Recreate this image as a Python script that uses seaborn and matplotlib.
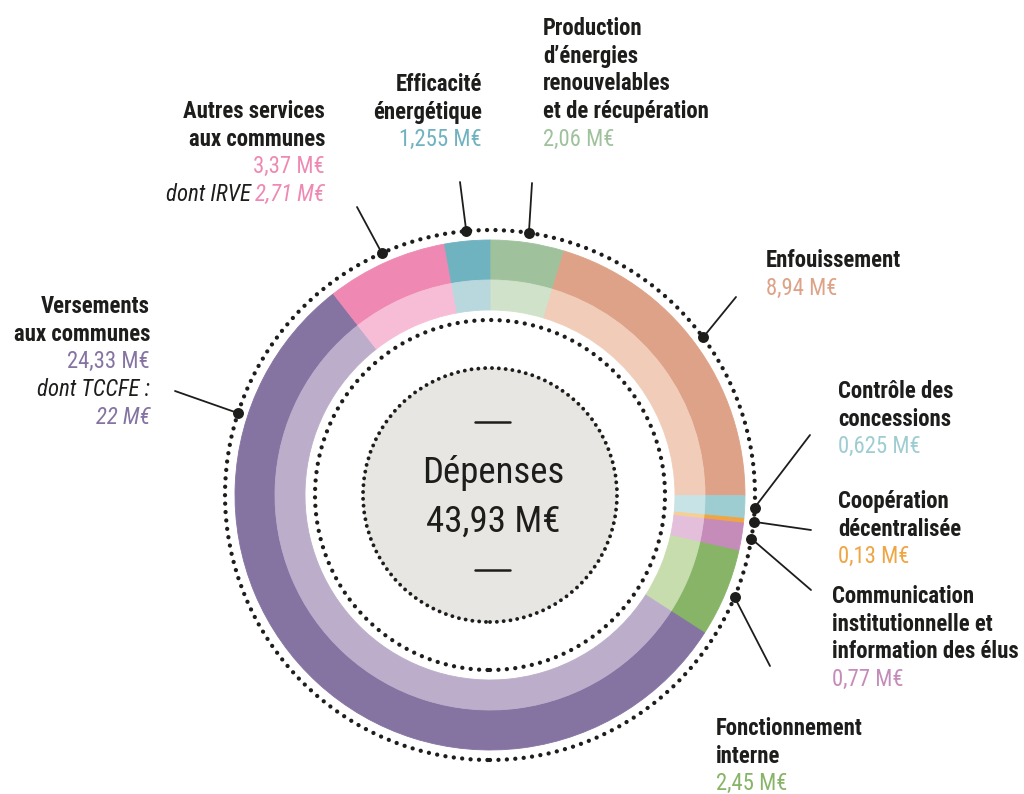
#!/usr/bin/env python3
import numpy as np
import matplotlib
matplotlib.use("Agg")
import matplotlib.pyplot as plt
from matplotlib import font_manager
from matplotlib.patches import Circle
import seaborn as sns


# -------------------------------------------------
# Data (clockwise from 12 o'clock)
# -------------------------------------------------
total_label = "43,93 M€"
categories = [
    "Production d'énergies renouvelables et de récupération",
    "Enfouissement",
    "Contrôle des concessions",
    "Coopération décentralisée",
    "Communication institutionnelle et information des élus",
    "Fonctionnement interne",
    "Versements aux communes",
    "Autres services aux communes",
    "Efficacité énergétique",
]
values = [2.06, 8.94, 0.625, 0.13, 0.77, 2.45, 24.33, 3.37, 1.255]
title_lines = [
    ["Production", "d’énergies", "renouvelables", "et de récupération"],
    ["Enfouissement"],
    ["Contrôle des", "concessions"],
    ["Coopération", "décentralisée"],
    ["Communication", "institutionnelle et", "information des élus"],
    ["Fonctionnement", "interne"],
    ["Versements", "aux communes"],
    ["Autres services", "aux communes"],
    ["Efficacité", "énergétique"],
]
detail_names = [None, None, None, None, None, None, "dont TCCFE :", "dont IRVE", None]
detail_values = [None, None, None, None, None, None, 22, 2.71, None]

outer_colors = ["#9fc29d", "#dda287", "#9ecdd1", "#efa544", "#c58bb9",
                "#87b467", "#8573a2", "#ef89b3", "#6fb2c0"]
inner_colors = ["#d0e2c9", "#f1cdb9", "#c7e3e5", "#f6cf96", "#e4bfdb",
                "#c8ddae", "#bcaecb", "#f8bdd6", "#b8d8de"]

# -------------------------------------------------
# Layout (pixels, y measured from the top)
# -------------------------------------------------
W, H = 1024, 794
CX, CY = 490, 495
R_OUT, R_MID, R_IN = 255, 215, 185
R_DOTS, R_INNER_DOTS, R_CENTER = 265, 175, 127

# x, first baseline, alignment
label_pos = [
    (543, 35, "left"),
    (766, 267, "left"),
    (838, 398, "left"),
    (838, 508, "left"),
    (832, 603, "left"),
    (716, 735, "left"),
    (150, 313, "right"),
    (325, 118, "right"),
    (482, 91, "right"),
]
leader_end = [(532, 183), (736, 297), (810, 435), (811, 530), (811, 590),
              (770, 666), (175, 391), (357, 207), (460, 182)]
dot_angle_override = {6: 162.0}
LINE_STEP = 27.7

TEXT_DARK = "#1d1d1b"


def pick_condensed():
    ttf = font_manager.fontManager.ttflist
    names = {f.name for f in ttf}
    for p in ["Roboto Condensed", "Liberation Sans Narrow", "Noto Sans Condensed",
              "Open Sans Condensed", "DejaVu Sans Condensed", "Noto Sans Display Condensed"]:
        if p in names:
            return p, "normal"
    cond = {f.name for f in ttf if f.stretch in ("condensed", "semi-condensed",
                                                  "extra-condensed", "ultra-condensed")}
    for fam in ["Noto Sans", "Open Sans", "DejaVu Sans", "Roboto", "Liberation Sans", "Inter"]:
        if fam in cond:
            return fam, "condensed"
    for n in sorted(names):
        if "Condensed" in n or "Narrow" in n:
            return n, "normal"
    return "Roboto", "normal"


def py(y):
    # pixel row -> data y
    return H - y


def fmt(v):
    return str(v).replace(".", ",") + " M€"


sns.set_theme(style="white")
FONT, STRETCH = pick_condensed()
plt.rcParams["font.family"] = [FONT, "DejaVu Sans"]

fig = plt.figure(figsize=(W / 100, H / 100), dpi=100)
ax = fig.add_axes([0, 0, 1, 1])

# --- two rings ---
for radius, width, cols in [(R_OUT, R_OUT - R_MID, outer_colors),
                            (R_MID, R_MID - R_IN, inner_colors)]:
    wedges, _ = ax.pie(values, radius=radius, center=(CX, py(CY)), startangle=90,
                       counterclock=False, colors=cols,
                       wedgeprops=dict(width=width, linewidth=0.6))
    for w in wedges:
        w.set_edgecolor(w.get_facecolor())

ax.set_xlim(0, W)
ax.set_ylim(0, H)
ax.set_aspect("equal")
ax.axis("off")
renderer = fig.canvas.get_renderer()


def text_width(s, size, **kw):
    t = ax.text(0, 0, s, fontsize=size, fontstretch=STRETCH, **kw)
    w = t.get_window_extent(renderer).width
    t.remove()
    return w


# scale sizes so line widths match the reference
LBL = min(19.5, 19.5 * 188 / text_width("information des élus", 19.5, fontweight="bold"))
BIG = min(34.0, 34.0 * 143 / text_width("Dépenses", 34))
kw_txt = dict(va="baseline", fontstretch=STRETCH)

# --- dotted circles & centre disc ---
ax.add_patch(Circle((CX, py(CY)), R_CENTER, facecolor="#e8e6e3", edgecolor="none", zorder=1))
for r, lw, gap in [(R_DOTS, 3.1, 1.95), (R_INNER_DOTS, 3.1, 1.95), (R_CENTER, 2.8, 1.75)]:
    ax.add_patch(Circle((CX, py(CY)), r, fill=False, edgecolor=TEXT_DARK, lw=lw,
                        linestyle=(0, (0.01, gap)), capstyle="round", zorder=3))

# --- centre text ---
ax.text(CX + 3, py(483), "Dépenses", ha="center", fontsize=BIG, color=TEXT_DARK, **kw_txt)
ax.text(CX + 3, py(532), total_label, ha="center", fontsize=BIG, color=TEXT_DARK, **kw_txt)
for yy in (422, 570):
    ax.plot([CX - 15, CX + 20], [py(yy), py(yy)], color=TEXT_DARK, lw=1.8, zorder=4)

# --- leaders ---
angles = []
start = 90.0
for v in values:
    span = v / sum(values) * 360
    angles.append(start - span / 2)
    start -= span

for i in range(len(values)):
    a = np.deg2rad(dot_angle_override.get(i, angles[i]))
    dx, dy = CX + R_DOTS * np.cos(a), py(CY) + R_DOTS * np.sin(a)
    ex, ey = leader_end[i]
    ax.plot([dx, ex], [dy, py(ey)], color=TEXT_DARK, lw=1.3, zorder=4)
    ax.scatter([dx], [dy], s=62, color=TEXT_DARK, zorder=5, linewidths=0)

# --- labels ---
for i, lines in enumerate(title_lines):
    x, y0, ha = label_pos[i]
    y = y0
    for ln in lines:
        ax.text(x, py(y), ln, ha=ha, fontsize=LBL, fontweight="bold", color=TEXT_DARK, **kw_txt)
        y += LINE_STEP
    ax.text(x, py(y), fmt(values[i]), ha=ha, fontsize=LBL, color=outer_colors[i], **kw_txt)
    y += LINE_STEP
    if detail_names[i] is None:
        continue
    if i == 6:
        # two-line detail
        ax.text(x, py(y), detail_names[i], ha=ha, fontsize=LBL, style="italic",
                color=TEXT_DARK, **kw_txt)
        y += LINE_STEP
        ax.text(x, py(y), fmt(detail_values[i]), ha=ha, fontsize=LBL, style="italic",
                color=outer_colors[i], **kw_txt)
    else:
        t = ax.text(x, py(y), fmt(detail_values[i]), ha="right", fontsize=LBL, style="italic",
                    color=outer_colors[i], **kw_txt)
        bb = t.get_window_extent(renderer)
        left = ax.transData.inverted().transform((bb.x0, bb.y0))[0]
        ax.text(left - 4, py(y), detail_names[i], ha="right", fontsize=LBL, style="italic",
                color=TEXT_DARK, **kw_txt)

fig.savefig("out.png", dpi=100, facecolor="white")
plt.close(fig)
